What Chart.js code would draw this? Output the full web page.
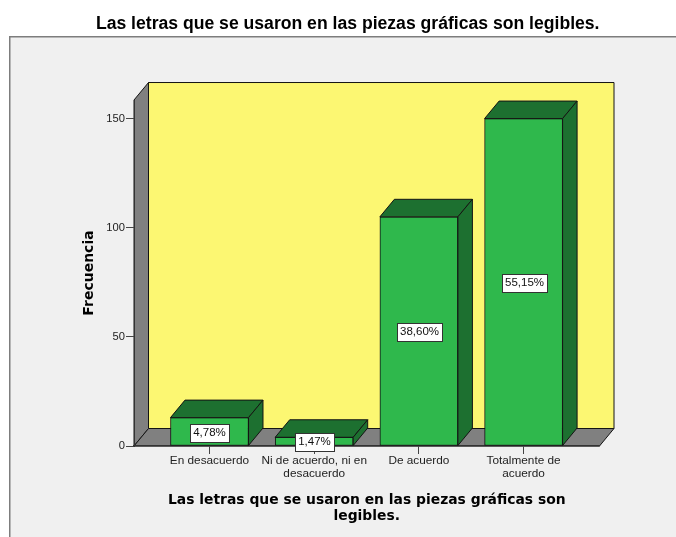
<!DOCTYPE html>
<html><head><meta charset="utf-8">
<style>html,body{margin:0;padding:0;background:#fff}canvas{display:block}</style>
<script src="https://cdn.jsdelivr.net/npm/chart.js@4"></script>
</head><body><canvas id="c" width="676" height="537"></canvas>
<script>
const categories = [["En desacuerdo"], ["Ni de acuerdo, ni en", "desacuerdo"], ["De acuerdo"], ["Totalmente de", "acuerdo"]];
const frequencies = [13, 4, 105, 150];
const percentLabels = ["4,78%", "1,47%", "38,60%", "55,15%"];
const yTicks = [0, 50, 100, 150];
const chartTitle = "Las letras que se usaron en las piezas gráficas son legibles.";
const xTitle = ["Las letras que se usaron en las piezas gráficas son", "legibles."];
const yTitle = "Frecuencia";

const DX = 14.5, DY = 17.5;
const DARK = "#141414";
function poly(ctx, pts, fill) {
  ctx.beginPath();
  pts.forEach((p, i) => i ? ctx.lineTo(p[0], p[1]) : ctx.moveTo(p[0], p[1]));
  ctx.closePath();
  ctx.fillStyle = fill; ctx.fill();
  ctx.strokeStyle = DARK; ctx.lineWidth = 1; ctx.stroke();
}
const scene = {
  id: "scene",
  beforeDraw(chart) {
    const ctx = chart.ctx, a = chart.chartArea;
    ctx.save();
    ctx.fillStyle = "#fff"; ctx.fillRect(0, 0, 676, 537);
    ctx.fillStyle = "#f0f0f0"; ctx.fillRect(9, 36, 667, 501);
    ctx.fillStyle = "#7d7d7d"; ctx.fillRect(9, 36, 667, 1.5); ctx.fillRect(9, 36, 1.5, 501);
    const l = a.left, r = a.right, t = a.top, b = a.bottom;
    poly(ctx, [[l + DX, t - DY], [r + DX, t - DY], [r + DX, b - DY], [l + DX, b - DY]], "#fcf772");
    poly(ctx, [[l, t], [l + DX, t - DY], [l + DX, b - DY], [l, b]], "#808080");
    poly(ctx, [[l, b], [l + DX, b - DY], [r + DX, b - DY], [r, b]], "#808080");
    ctx.restore();
  },
  afterDatasetsDraw(chart) {
    const ctx = chart.ctx, bars = chart.getDatasetMeta(0).data;
    ctx.save();
    bars.forEach((bar, i) => {
      const w = bar.width / 2, l = bar.x - w, r = bar.x + w, t = bar.y, b = bar.base;
      poly(ctx, [[l, t], [l + DX, t - DY], [r + DX, t - DY], [r, t]], "#1d7030");
      poly(ctx, [[r, t], [r + DX, t - DY], [r + DX, b - DY], [r, b]], "#1d7030");
    });
    ctx.font = "11.5px 'Liberation Sans'";
    ctx.textAlign = "center"; ctx.textBaseline = "middle";
    bars.forEach((bar, i) => {
      const cy = Math.round((bar.y + bar.base) / 2) + 0.5, cx = Math.round(bar.x) + 0.5;
      const w = Math.round(ctx.measureText(percentLabels[i]).width) + 6, h = 18;
      const x = Math.round(cx - w / 2) + 0.5, y = Math.round(cy - h / 2) + 0.5;
      ctx.fillStyle = "#fff"; ctx.fillRect(x, y, w, h);
      ctx.strokeStyle = "#333"; ctx.lineWidth = 1; ctx.strokeRect(x, y, w, h);
      ctx.fillStyle = "#111"; ctx.fillText(percentLabels[i], cx, cy + 0.5);
    });
    ctx.restore();
  }
};
new Chart(document.getElementById("c"), {
  type: "bar",
  data: {
    datasets: [{
      data: frequencies.map((v, i) => ({ x: i, y: v })),
      backgroundColor: "#2fb84c",
      borderColor: DARK,
      borderWidth: 1,
      barThickness: 78,
      borderSkipped: false
    }]
  },
  plugins: [scene],
  options: {
    responsive: false,
    animation: false,
    layout: { padding: { right: 76.5 } },
    plugins: {
      legend: { display: false },
      tooltip: { enabled: false },
      title: {
        display: true, text: chartTitle, color: "#000", align: "end",
        font: { family: "'Liberation Sans'", size: 17.6, weight: "bold", lineHeight: 1.2 },
        padding: { top: 13.5, bottom: 65.4 }
      }
    },
    scales: {
      x: {
        type: "linear", min: -0.721, max: 3.725, offset: false,
        afterFit(s) { s.height = 91; },
        afterBuildTicks(s) { s.ticks = categories.map((_, i) => ({ value: i })); },
        grid: { offset: false, drawOnChartArea: false, drawTicks: true, tickLength: 8, color: "#444" },
        border: { color: "#333", width: 1.5 },
        ticks: {
          autoSkip: false, maxRotation: 0, padding: 1, color: "#222",
          font: { family: "'Liberation Sans'", size: 11.8, lineHeight: 1.05 },
          callback: v => categories[v]
        },
        title: {
          display: true, text: xTitle, color: "#000",
          font: { family: "'DejaVu Sans'", size: 13.9, weight: "bold", lineHeight: 1.15 },
          padding: { top: 0, bottom: 12.5 }
        }
      },
      y: {
        min: 0, max: 158.5,
        afterFit(s) { s.width = 134; },
        afterBuildTicks(s) { s.ticks = yTicks.map(v => ({ value: v })); },
        grid: { drawOnChartArea: false, drawTicks: true, tickLength: 8, color: "#444" },
        border: { color: "#333", width: 1 },
        ticks: { padding: 1, color: "#222", font: { family: "'Liberation Sans'", size: 11.2 } },
        title: {
          display: true, text: yTitle, color: "#000",
          font: { family: "'DejaVu Sans'", size: 14, weight: "bold", lineHeight: 1.2 },
          padding: { top: 81, bottom: 0 }
        }
      }
    }
  }
});
</script></body></html>
